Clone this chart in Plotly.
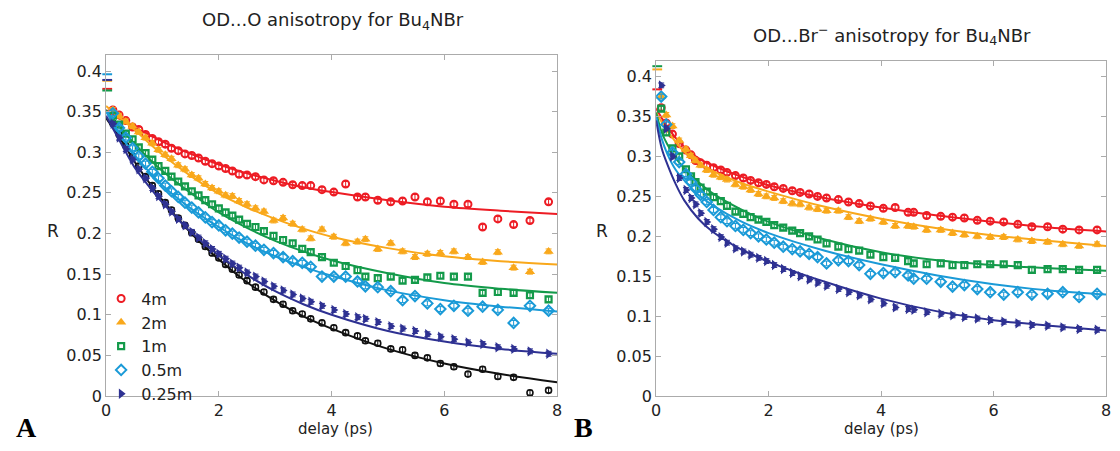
import plotly.graph_objects as go

# ---------------- Panel A : OD...O anisotropy ----------------
xA = [0.12, 0.23, 0.35, 0.47, 0.58, 0.70, 0.82, 0.93, 1.05, 1.16, 1.28, 1.40, 1.52, 1.64, 1.76, 1.88,
      2.00, 2.12, 2.24, 2.36, 2.50, 2.65, 2.80, 2.97, 3.14, 3.31, 3.48, 3.63, 3.83, 4.04, 4.25, 4.46,
      4.60, 4.82, 5.05, 5.26, 5.48, 5.70, 5.93, 6.17, 6.42, 6.68, 6.95, 7.23, 7.52, 7.85]
redA = [0.352, 0.346, 0.339, 0.331, 0.328, 0.322, 0.317, 0.313, 0.310, 0.305, 0.302, 0.298, 0.296, 0.293, 0.289, 0.286,
        0.283, 0.280, 0.277, 0.273, 0.272, 0.270, 0.266, 0.265, 0.263, 0.260, 0.259, 0.259, 0.254, 0.251, 0.261, 0.245,
        0.245, 0.241, 0.239, 0.240, 0.245, 0.239, 0.240, 0.236, 0.236, 0.208, 0.218, 0.211, 0.216, 0.239]
orangeA = [0.352, 0.345, 0.338, 0.332, 0.325, 0.318, 0.311, 0.303, 0.297, 0.292, 0.284, 0.279, 0.272, 0.268, 0.261, 0.256,
           0.252, 0.247, 0.246, 0.240, 0.236, 0.231, 0.227, 0.216, 0.219, 0.212, 0.205, 0.194, 0.205, 0.196, 0.188, 0.190,
           0.193, 0.181, 0.188, 0.178, 0.171, 0.175, 0.176, 0.178, 0.171, 0.165, 0.177, 0.158, 0.153, 0.178]
greenA = [0.345, 0.334, 0.323, 0.316, 0.306, 0.299, 0.291, 0.283, 0.277, 0.270, 0.264, 0.258, 0.252, 0.247, 0.241, 0.236,
          0.231, 0.226, 0.222, 0.217, 0.212, 0.208, 0.203, 0.197, 0.192, 0.188, 0.181, 0.177, 0.171, 0.164, 0.160, 0.155,
          0.147, 0.145, 0.147, 0.142, 0.143, 0.146, 0.148, 0.147, 0.147, 0.127, 0.128, 0.127, 0.124, 0.119]
cyanA = [0.348, 0.330, 0.318, 0.305, 0.295, 0.286, 0.276, 0.268, 0.259, 0.252, 0.245, 0.238, 0.232, 0.226, 0.220, 0.214,
         0.210, 0.204, 0.200, 0.195, 0.190, 0.185, 0.180, 0.176, 0.171, 0.166, 0.164, 0.159, 0.147, 0.147, 0.147, 0.141,
         0.135, 0.134, 0.129, 0.118, 0.123, 0.114, 0.107, 0.111, 0.105, 0.110, 0.106, 0.090, 0.111, 0.105]
navyA = [0.335, 0.318, 0.304, 0.291, 0.279, 0.268, 0.256, 0.246, 0.236, 0.227, 0.218, 0.210, 0.202, 0.195, 0.188, 0.181,
         0.175, 0.169, 0.163, 0.158, 0.152, 0.147, 0.141, 0.135, 0.130, 0.125, 0.120, 0.116, 0.111, 0.106, 0.101, 0.097,
         0.095, 0.091, 0.086, 0.083, 0.080, 0.076, 0.073, 0.070, 0.066, 0.064, 0.060, 0.058, 0.055, 0.052]
blackA = [0.336, 0.322, 0.308, 0.295, 0.283, 0.270, 0.259, 0.249, 0.238, 0.229, 0.219, 0.210, 0.201, 0.193, 0.184, 0.176,
          0.170, 0.162, 0.156, 0.149, 0.142, 0.134, 0.128, 0.119, 0.113, 0.105, 0.101, 0.095, 0.090, 0.084, 0.078, 0.074,
          0.068, 0.065, 0.058, 0.057, 0.050, 0.047, 0.040, 0.036, 0.027, 0.033, 0.024, 0.023, 0.004, 0.007]

fitX = [0, 0.25, 0.5, 0.75, 1, 1.5, 2, 2.5, 3, 3.5, 4, 5, 6, 7, 8]
fitRedA = [0.352, 0.341, 0.331, 0.322, 0.313, 0.298, 0.285, 0.274, 0.265, 0.257, 0.251, 0.241, 0.233, 0.228, 0.224]
fitOrangeA = [0.357, 0.342, 0.328, 0.312, 0.297, 0.271, 0.249, 0.232, 0.218, 0.206, 0.196, 0.182, 0.172, 0.166, 0.162]
fitGreenA = [0.352, 0.330, 0.311, 0.293, 0.277, 0.250, 0.226, 0.207, 0.191, 0.178, 0.167, 0.151, 0.139, 0.132, 0.127]
fitCyanA = [0.350, 0.322, 0.297, 0.277, 0.259, 0.231, 0.208, 0.188, 0.172, 0.159, 0.148, 0.130, 0.118, 0.110, 0.104]
fitNavyA = [0.345, 0.313, 0.282, 0.259, 0.238, 0.202, 0.173, 0.149, 0.129, 0.113, 0.100, 0.080, 0.067, 0.058, 0.052]
fitBlackA = [0.342, 0.317, 0.289, 0.264, 0.241, 0.201, 0.168, 0.140, 0.117, 0.098, 0.083, 0.058, 0.040, 0.027, 0.017]

# t = 0 values (drawn as short dashes on the axis)
zeroA = {"red": 0.378, "orange": 0.388, "green": 0.376, "cyan": 0.396, "navy": 0.389}

# ---------------- Panel B : OD...Br- anisotropy ----------------
xB = [0.09, 0.18, 0.29, 0.41, 0.53, 0.62, 0.70, 0.79, 0.90, 1.02, 1.15, 1.26, 1.41, 1.55, 1.68, 1.82,
      1.96, 2.10, 2.26, 2.42, 2.56, 2.72, 2.87, 3.03, 3.24, 3.42, 3.61, 3.81, 4.04, 4.25, 4.48, 4.58,
      4.81, 5.06, 5.27, 5.48, 5.71, 5.94, 6.18, 6.43, 6.68, 6.96, 7.23, 7.52, 7.84]
redB = [0.361, 0.342, 0.328, 0.316, 0.308, 0.302, 0.295, 0.292, 0.289, 0.286, 0.283, 0.280, 0.276, 0.273, 0.270, 0.267,
        0.265, 0.262, 0.260, 0.257, 0.255, 0.253, 0.250, 0.248, 0.246, 0.243, 0.241, 0.238, 0.235, 0.236, 0.230, 0.230,
        0.226, 0.225, 0.224, 0.223, 0.220, 0.219, 0.218, 0.215, 0.212, 0.212, 0.209, 0.208, 0.208]
orangeB = [0.375, 0.352, 0.338, 0.320, 0.309, 0.301, 0.295, 0.289, 0.283, 0.277, 0.274, 0.271, 0.265, 0.262, 0.258, 0.253,
           0.250, 0.248, 0.244, 0.241, 0.240, 0.236, 0.234, 0.232, 0.232, 0.224, 0.219, 0.222, 0.218, 0.213, 0.213, 0.212,
           0.208, 0.208, 0.204, 0.202, 0.200, 0.199, 0.199, 0.196, 0.194, 0.193, 0.190, 0.188, 0.190]
greenB = [0.360, 0.330, 0.310, 0.300, 0.284, 0.275, 0.268, 0.261, 0.256, 0.249, 0.244, 0.238, 0.231, 0.228, 0.224, 0.221,
          0.218, 0.214, 0.211, 0.207, 0.204, 0.200, 0.196, 0.191, 0.187, 0.184, 0.182, 0.177, 0.174, 0.173, 0.169, 0.166,
          0.165, 0.166, 0.164, 0.164, 0.165, 0.165, 0.165, 0.164, 0.158, 0.159, 0.159, 0.158, 0.158]
cyanB = [0.375, 0.340, 0.305, 0.293, 0.278, 0.268, 0.260, 0.252, 0.243, 0.233, 0.224, 0.219, 0.213, 0.208, 0.204, 0.200,
         0.196, 0.192, 0.187, 0.184, 0.181, 0.178, 0.174, 0.166, 0.170, 0.169, 0.164, 0.153, 0.154, 0.155, 0.151, 0.147,
         0.147, 0.143, 0.137, 0.139, 0.134, 0.130, 0.127, 0.130, 0.127, 0.128, 0.130, 0.124, 0.128]
navyB = [0.389, 0.335, 0.300, 0.273, 0.258, 0.248, 0.240, 0.229, 0.218, 0.209, 0.199, 0.192, 0.185, 0.181, 0.177, 0.173,
         0.169, 0.164, 0.159, 0.154, 0.150, 0.146, 0.142, 0.138, 0.134, 0.130, 0.126, 0.121, 0.116, 0.111, 0.109, 0.108,
         0.105, 0.103, 0.101, 0.099, 0.097, 0.095, 0.093, 0.091, 0.089, 0.088, 0.086, 0.084, 0.083]

fitXB = [0, 0.1, 0.2, 0.35, 0.5, 0.75, 1, 1.5, 2, 3, 4, 5, 6, 7, 8]
fitRedB = [0.360, 0.348, 0.337, 0.323, 0.312, 0.298, 0.289, 0.275, 0.264, 0.248, 0.236, 0.226, 0.218, 0.211, 0.206]
fitOrangeB = [0.355, 0.343, 0.332, 0.318, 0.306, 0.292, 0.282, 0.267, 0.256, 0.237, 0.222, 0.210, 0.201, 0.194, 0.188]
fitGreenB = [0.355, 0.330, 0.315, 0.298, 0.285, 0.268, 0.254, 0.234, 0.218, 0.196, 0.180, 0.170, 0.164, 0.160, 0.157]
fitCyanB = [0.350, 0.322, 0.303, 0.283, 0.270, 0.252, 0.239, 0.219, 0.204, 0.182, 0.165, 0.151, 0.140, 0.132, 0.127]
fitNavyB = [0.345, 0.310, 0.290, 0.265, 0.245, 0.222, 0.206, 0.184, 0.168, 0.143, 0.122, 0.106, 0.095, 0.088, 0.082]

zeroB = {"red": 0.384, "orange": 0.409, "green": 0.413}

labels = ["4m", "2m", "1m", "0.5m", "0.25m"]
yticks = [0, 0.05, 0.1, 0.15, 0.2, 0.25, 0.3, 0.35, 0.4]
ytext = ["0", "0.05", "0.1", "0.15", "0.2", "0.25", "0.3", "0.35", "0.4"]
xticks = [0, 2, 4, 6, 8]

# ---------------- styling ----------------
COL = {"red": "#ED1C24", "orange": "#F9A81B", "green": "#139A4A",
       "cyan": "#1A9AD7", "navy": "#2E3192", "black": "#111111"}
MARK = {
    "red": dict(symbol="circle-open", size=7, line=dict(width=2)),
    "orange": dict(symbol="triangle-up", size=9, line=dict(width=0)),
    "green": dict(symbol="square-open", size=6, line=dict(width=2.2)),
    "cyan": dict(symbol="diamond-open", size=8, line=dict(width=2)),
    "navy": dict(symbol="triangle-right", size=9, line=dict(width=0)),
    "black": dict(symbol="circle-open", size=6, line=dict(width=1.6)),
}
FONT = "DejaVu Sans, Arial, sans-serif"

fig = go.Figure()


def add_points(x, y, key, name, xa, ya, legend):
    m = dict(MARK[key])
    m["color"] = COL[key]
    fig.add_trace(go.Scatter(
        x=x, y=y, mode="markers", name=name, showlegend=legend,
        marker=m, xaxis=xa, yaxis=ya,
        error_y=dict(type="constant", value=0.003, width=3, thickness=1, color=COL[key]),
    ))


def add_fit(x, y, key, xa, ya):
    fig.add_trace(go.Scatter(
        x=x, y=y, mode="lines", showlegend=False, hoverinfo="skip",
        line=dict(color=COL[key], width=2, shape="spline", smoothing=0.9),
        xaxis=xa, yaxis=ya,
    ))


def add_zero(vals, xa, ya):
    for k, v in vals.items():
        fig.add_trace(go.Scatter(
            x=[0.02], y=[v], mode="markers", showlegend=False, cliponaxis=False,
            marker=dict(symbol="line-ew", size=7, line=dict(width=2, color=COL[k])),
            xaxis=xa, yaxis=ya,
        ))


# Panel A
seriesA = [("red", redA, fitRedA), ("orange", orangeA, fitOrangeA), ("green", greenA, fitGreenA),
           ("cyan", cyanA, fitCyanA), ("navy", navyA, fitNavyA)]
add_points(xA, blackA, "black", "water", "x", "y", False)
add_fit(fitX, fitBlackA, "black", "x", "y")
for (k, pts, fit), lab in zip(seriesA, labels):
    add_points(xA, pts, k, lab, "x", "y", True)
    add_fit(fitX, fit, k, "x", "y")
add_zero(zeroA, "x", "y")

# Panel B
seriesB = [("red", redB, fitRedB), ("orange", orangeB, fitOrangeB), ("green", greenB, fitGreenB),
           ("cyan", cyanB, fitCyanB), ("navy", navyB, fitNavyB)]
for k, pts, fit in seriesB:
    add_points(xB, pts, k, k, "x2", "y2", False)
    add_fit(fitXB, fit, k, "x2", "y2")
add_zero(zeroB, "x2", "y2")

W, H = 1120, 451
axcommon = dict(showline=True, linecolor="#ababab", linewidth=1, mirror="allticks",
                ticks="inside", ticklen=5, tickcolor="#ababab", showgrid=False, zeroline=False,
                tickfont=dict(family=FONT, size=16, color="#222"))

fig.update_layout(
    width=W, height=H, margin=dict(l=0, r=0, t=0, b=0),
    paper_bgcolor="white", plot_bgcolor="white",
    font=dict(family=FONT, color="#222"),
    xaxis=dict(domain=[102 / W, 557 / W], range=[0, 8], tickvals=xticks, anchor="y", **axcommon),
    yaxis=dict(domain=[1 - 405 / H, 1 - 56 / H], range=[0, 0.42], tickvals=yticks, ticktext=ytext,
               anchor="x", **axcommon),
    xaxis2=dict(domain=[657 / W, 1111 / W], range=[0, 8], tickvals=xticks, anchor="y2", **axcommon),
    yaxis2=dict(domain=[1 - 405 / H, 1 - 62 / H], range=[0, 0.42], tickvals=yticks, ticktext=ytext,
                anchor="x2", **axcommon),
    legend=dict(x=97 / W, y=1 - 288 / H, xanchor="left", yanchor="top",
                bgcolor="rgba(255,255,255,0)", borderwidth=0, tracegroupgap=0,
                font=dict(family=FONT, size=16, color="#222"), itemwidth=30),
    showlegend=True,
)

ann = [
    dict(x=331 / W, y=1 - 21 / H, text="OD...O anisotropy for Bu<sub>4</sub>NBr", size=18),
    dict(x=895 / W, y=1 - 36 / H, text="OD...Br<sup>\u2212</sup> anisotropy for Bu<sub>4</sub>NBr", size=18),
    dict(x=333 / W, y=1 - 439 / H, text="delay (ps)", size=15),
    dict(x=884 / W, y=1 - 439 / H, text="delay (ps)", size=15),
]
for a in ann:
    fig.add_annotation(x=a["x"], y=a["y"], xref="paper", yref="paper", text=a["text"],
                       showarrow=False, font=dict(family=FONT, size=a["size"], color="#222"),
                       xanchor="center", yanchor="middle")
for xp in (48, 602):
    fig.add_annotation(x=xp / W, y=1 - 236 / H, xref="paper", yref="paper", text="R",
                       showarrow=False, font=dict(family=FONT, size=17, color="#222"),
                       xanchor="center", yanchor="middle")
for xp, t in ((22, "A"), (584, "B")):
    fig.add_annotation(x=xp / W, y=1 - 437 / H, xref="paper", yref="paper", text="<b>%s</b>" % t,
                       showarrow=False, font=dict(family="Liberation Serif, Times New Roman, serif", size=28, color="#000"),
                       xanchor="center", yanchor="middle")

fig.write_html("out.html", config={"displayModeBar": False},
               post_script="document.body.style.margin='0';document.body.style.padding='0';")
